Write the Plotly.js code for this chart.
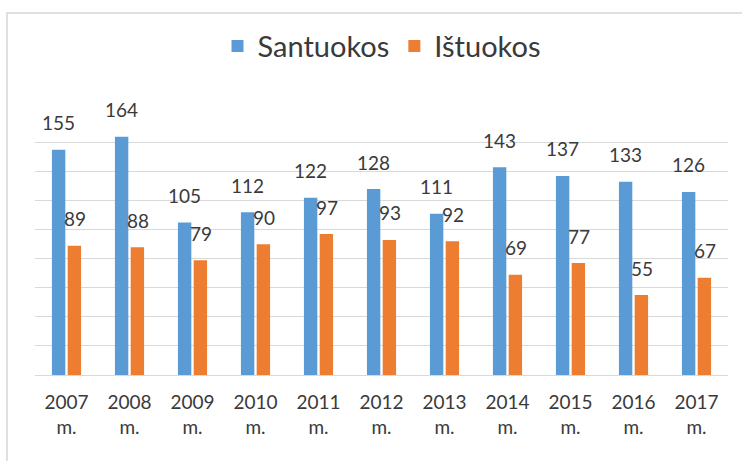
<!DOCTYPE html>
<html>
<head>
<meta charset="utf-8">
<script src="https://cdn.plot.ly/plotly-3.0.1.min.js"></script>
<style>
  html, body { margin: 0; padding: 0; background: #fff; }
  #wrap { position: relative; width: 742px; height: 461px; }
  #chart { width: 742px; height: 461px; }
  #frame { position: absolute; left: 6px; top: 12px; right: -2px; bottom: -2px;
           border-top: 2px solid #e0e0e0; border-left: 2px solid #e0e0e0; pointer-events: none; }
</style>
</head>
<body>
<div id="wrap">
  <div id="chart"></div>
  <div id="frame"></div>
</div>
<script>
const years = ["2007", "2008", "2009", "2010", "2011", "2012", "2013", "2014", "2015", "2016", "2017"];
const categories = years.map(y => y + "<br>m.");
const santuokos = [155, 164, 105, 112, 122, 128, 111, 143, 137, 133, 126];
const istuokos = [89, 88, 79, 90, 97, 93, 92, 69, 77, 55, 67];
const seriesNames = ["Santuokos", "Ištuokos"];
const colors = ["#5B9BD5", "#ED7D31"];

const FONT = "Lato, 'Open Sans', sans-serif";
const TXT = "#3a3a3a";

const traces = [
  { type: "bar", name: seriesNames[0], x: categories, y: santuokos, marker: { color: colors[0] }, hoverinfo: "none" },
  { type: "bar", name: seriesNames[1], x: categories, y: istuokos, marker: { color: colors[1] }, hoverinfo: "none" }
];

const annotations = [];
[santuokos, istuokos].forEach((vals, s) => {
  vals.forEach((v, i) => {
    annotations.push({
      x: categories[i], y: v, xref: "x", yref: "y",
      text: String(v), showarrow: false,
      xshift: s === 0 ? -8 : 8, yshift: 27,
      yanchor: "middle", xanchor: "center",
      font: { family: FONT, size: 19, color: TXT }
    });
  });
});

const layout = {
  width: 742, height: 461,
  margin: { l: 35, r: 14, t: 127.5, b: 86 },
  paper_bgcolor: "#ffffff", plot_bgcolor: "#ffffff",
  barmode: "group", bargap: 0.5, bargroupgap: 0.15,
  showlegend: true,
  legend: {
    orientation: "h", x: 0.5, xanchor: "center", y: 0.9, yref: "container", yanchor: "middle",
    font: { family: FONT, size: 29, color: TXT }, itemwidth: 30, traceorder: "normal"
  },
  xaxis: {
    type: "category", showgrid: false, showline: true, linecolor: "#d9d9d9", linewidth: 1,
    ticks: "", ticklabelstandoff: 10,
    tickfont: { family: FONT, size: 19, color: TXT }, fixedrange: true
  },
  yaxis: {
    range: [0, 170], dtick: 20, tick0: 0, showgrid: true, gridcolor: "#d9d9d9", gridwidth: 1,
    showticklabels: false, zeroline: false, ticks: "", fixedrange: true
  },
  annotations: annotations
};

Plotly.newPlot("chart", traces, layout, { displayModeBar: false, staticPlot: true });
</script>
</body>
</html>
